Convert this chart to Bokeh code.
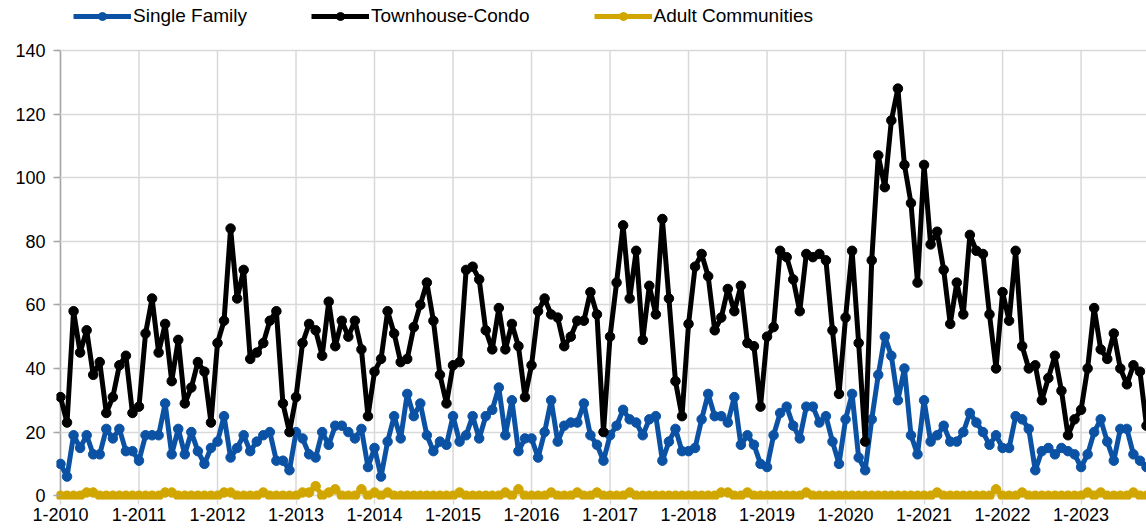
from bokeh.plotting import figure
from bokeh.models import Range1d, FixedTicker, Legend, LegendItem
from bokeh.embed import file_html
from bokeh.resources import INLINE

# Monthly values, Jan 2010 .. Nov 2023
single_family = [
    10, 6, 19, 15, 19, 13, 13, 21, 18, 21, 14, 14,
    11, 19, 19, 19, 29, 13, 21, 13, 20, 14, 10, 15,
    17, 25, 12, 15, 19, 14, 17, 19, 20, 11, 11, 8,
    20, 18, 13, 12, 20, 16, 22, 22, 20, 18, 21, 9,
    15, 6, 17, 25, 18, 32, 25, 29, 19, 14, 17, 16,
    25, 17, 19, 25, 18, 25, 27, 34, 19, 30, 14, 18,
    18, 12, 20, 30, 17, 22, 23, 23, 29, 19, 16, 11,
    19, 22, 27, 24, 23, 19, 24, 25, 11, 17, 21, 14,
    14, 15, 24, 32, 25, 25, 23, 31, 16, 19, 16, 10,
    9, 19, 26, 28, 22, 18, 28, 28, 23, 25, 17, 10,
    24, 32, 12, 8, 24, 38, 50, 44, 30, 40, 19, 13,
    30, 17, 19, 22, 17, 17, 20, 26, 23, 20, 16, 19,
    15, 15, 25, 24, 21, 8, 14, 15, 13, 15, 14, 13,
    9, 13, 20, 24, 17, 11, 21, 21, 13, 11, 9,
]
townhouse_condo = [
    31, 23, 58, 45, 52, 38, 42, 26, 31, 41, 44, 26,
    28, 51, 62, 45, 54, 36, 49, 29, 34, 42, 39, 23,
    48, 55, 84, 62, 71, 43, 45, 48, 55, 58, 29, 20,
    31, 48, 54, 52, 44, 61, 47, 55, 50, 55, 46, 25,
    39, 43, 58, 51, 42, 43, 53, 60, 67, 55, 38, 29,
    41, 42, 71, 72, 68, 52, 46, 59, 46, 54, 47, 31,
    41, 58, 62, 57, 56, 47, 50, 55, 55, 64, 57, 20,
    50, 67, 85, 62, 77, 49, 66, 57, 87, 62, 36, 25,
    54, 72, 76, 69, 52, 56, 65, 58, 66, 48, 47, 28,
    50, 53, 77, 75, 68, 58, 76, 75, 76, 74, 52, 32,
    56, 77, 48, 17, 74, 107, 97, 118, 128, 104, 92, 67,
    104, 79, 83, 71, 54, 67, 57, 82, 77, 76, 57, 40,
    64, 55, 77, 47, 40, 41, 30, 37, 44, 33, 19, 24,
    27, 40, 59, 46, 43, 51, 40, 35, 41, 39, 22,
]
adult_communities = [
    0, 0, 0, 0, 1, 1, 0, 0, 0, 0, 0, 0,
    0, 0, 0, 0, 1, 1, 0, 0, 0, 0, 0, 0,
    0, 1, 1, 0, 0, 0, 0, 1, 0, 0, 0, 0,
    0, 1, 1, 3, 0, 1, 2, 0, 0, 0, 2, 0,
    1, 0, 1, 0, 0, 0, 0, 0, 0, 0, 0, 0,
    0, 1, 0, 0, 0, 0, 0, 0, 1, 0, 2, 0,
    0, 0, 0, 1, 0, 0, 0, 1, 0, 0, 1, 0,
    0, 0, 0, 1, 0, 0, 0, 0, 0, 0, 0, 0,
    0, 0, 0, 0, 0, 1, 1, 0, 0, 1, 0, 0,
    0, 0, 0, 0, 0, 0, 1, 0, 0, 0, 0, 0,
    0, 0, 0, 0, 0, 0, 0, 0, 0, 0, 0, 0,
    0, 0, 1, 0, 0, 0, 0, 0, 0, 0, 0, 2,
    0, 0, 0, 1, 0, 0, 0, 0, 0, 0, 0, 0,
    0, 1, 0, 1, 0, 0, 0, 0, 1, 0, 0,
]
year_labels = ["1-2010", "1-2011", "1-2012", "1-2013", "1-2014", "1-2015", "1-2016",
               "1-2017", "1-2018", "1-2019", "1-2020", "1-2021", "1-2022", "1-2023"]
y_ticks = [0, 20, 40, 60, 80, 100, 120, 140]
series_names = ["Single Family", "Townhouse-Condo", "Adult Communities"]
series_colors = ["#0b52a4", "#000000", "#d1a600"]

n = len(townhouse_condo)
months = list(range(n))
FONT = "Liberation Sans"
Y_MIN, Y_MAX = -1.2, 155.7   # extra room above 140 holds the legend

p = figure(width=1146, height=528,
           x_range=Range1d(-0.61, n - 1), y_range=Range1d(Y_MIN, Y_MAX),
           output_backend="svg", toolbar_location=None,
           min_border_left=56, min_border_right=0, min_border_top=0, min_border_bottom=29)
p.outline_line_color = None
p.background_fill_color = "white"
p.border_fill_color = "white"

x_ticks = [12 * k for k in range(len(year_labels))]
p.xaxis.ticker = FixedTicker(ticks=x_ticks)
p.xaxis.major_label_overrides = {t: lab for t, lab in zip(x_ticks, year_labels)}
p.yaxis.ticker = FixedTicker(ticks=y_ticks)
p.ygrid.ticker = FixedTicker(ticks=y_ticks)
p.ygrid.grid_line_color = "#d9d9d9"
p.ygrid.grid_line_width = 1.5
p.xgrid.grid_line_color = None

# vertical grid lines only up to the top tick, then the value-axis line
top = y_ticks[-1]
p.segment(x0=x_ticks, y0=[Y_MIN] * len(x_ticks), x1=x_ticks, y1=[top] * len(x_ticks),
          line_color="#d9d9d9", line_width=1.5, level="underlay")
p.segment(x0=[0], y0=[Y_MIN], x1=[0], y1=[top], line_color="#a6a6a6", line_width=1.5,
          level="underlay")

for ax in (p.xaxis, p.yaxis):
    ax.axis_line_color = None
    ax.minor_tick_line_color = None
    ax.major_label_text_font = FONT
    ax.major_label_text_font_size = "18px"
    ax.major_label_text_color = "#000000"
p.xaxis.major_tick_line_color = "#d9d9d9"
p.xaxis.major_tick_line_width = 1.5
p.xaxis.major_tick_out = 5
p.xaxis.major_tick_in = 0
p.xaxis.major_label_standoff = 3
p.yaxis.major_tick_line_color = "#a6a6a6"
p.yaxis.major_tick_line_width = 1.5
p.yaxis.major_tick_out = 3
p.yaxis.major_tick_in = 4
p.yaxis.major_label_standoff = 8

items = []
for vals, name, color in zip([single_family, townhouse_condo, adult_communities],
                             series_names, series_colors):
    lr = p.line(months, vals, line_color=color, line_width=5, line_join="round")
    sr = p.scatter(months, vals, size=9.5, fill_color=color, line_color=color)
    items.append(LegendItem(label=name, renderers=[lr, sr]))

legend = Legend(items=items, orientation="horizontal", location=(17, 472),
                glyph_width=58, glyph_height=20, label_standoff=2, spacing=64,
                padding=0, margin=0, border_line_color=None, background_fill_alpha=0,
                label_text_font=FONT, label_text_font_size="19px",
                label_text_color="#000000")
p.add_layout(legend, "center")

open("out.html", "w").write(file_html(p, INLINE))
